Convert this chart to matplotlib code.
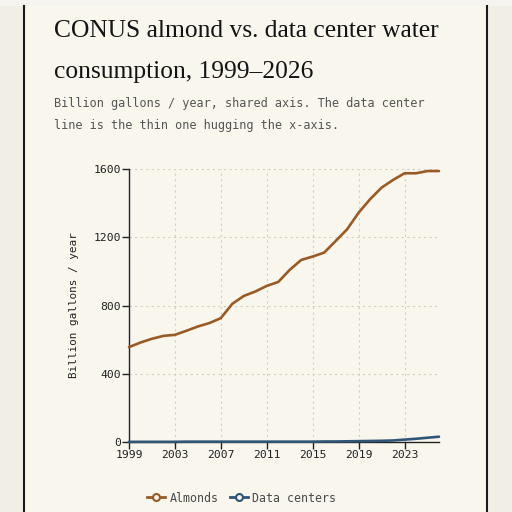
import matplotlib
matplotlib.use("Agg")
import matplotlib.pyplot as plt
from matplotlib.patches import Rectangle
from matplotlib.lines import Line2D

years = list(range(1999, 2027))
almonds = [556, 583, 605, 622, 628, 652, 677, 697, 726, 810, 856, 882, 915, 938,
           1009, 1067, 1087, 1110, 1178, 1247, 1344, 1423, 1491, 1536, 1575, 1575,
           1588, 1588]
data_centers = [1, 1, 1, 1, 1, 2, 2, 2, 2, 2, 2, 2, 2, 2, 2, 2, 2, 3, 3, 4, 5, 6,
                7, 9, 14, 19, 25, 31]
xticks = [1999, 2003, 2007, 2011, 2015, 2019, 2023]
yticks = [0, 400, 800, 1200, 1600]

W, H = 512, 512
fig = plt.figure(figsize=(W/100, H/100), dpi=100)
fig.patch.set_facecolor("#f1eee5")

def fx(px): return px / W
def fy(py): return 1 - py / H

# card
fig.patches.append(Rectangle((0, fy(6)), 1, 1 - fy(6), transform=fig.transFigure,
                             facecolor="#f5f4f0", edgecolor="none", zorder=-11))
fig.patches.append(Rectangle((fx(24), 0), fx(487) - fx(24), fy(6), transform=fig.transFigure,
                             facecolor="#f9f6ee", edgecolor="none", zorder=-10))
fig.lines.append(Line2D([fx(24), fx(24)], [0, fy(6)], transform=fig.transFigure, color="#1a1a1a",
                        lw=1.5, zorder=-5))
fig.lines.append(Line2D([fx(487), fx(487)], [0, fy(6)], transform=fig.transFigure, color="#1a1a1a",
                        lw=1.5, zorder=-5))

fig.text(fx(54), fy(37), "CONUS almond vs. data center water", fontsize=18.4,
         family="Liberation Serif", color="#141414", va="baseline")
fig.text(fx(54), fy(78), "consumption, 1999\u20132026", fontsize=18.4,
         family="Liberation Serif", color="#141414", va="baseline")
fig.text(fx(54), fy(107), "Billion gallons / year, shared axis. The data center", fontsize=8.55,
         family="DejaVu Sans Mono", color="#555555", va="baseline")
fig.text(fx(54), fy(129), "line is the thin one hugging the x-axis.", fontsize=8.55,
         family="DejaVu Sans Mono", color="#555555", va="baseline")

ax = fig.add_axes([fx(129), fy(442), fx(439) - fx(129), fy(169) - fy(442)])
ax.set_facecolor("none")
c_alm = "#9a5a25"
c_dc = "#2f5577"
ax.plot(years, almonds, color=c_alm, lw=1.9, solid_capstyle="round", solid_joinstyle="round",
        label="Almonds", clip_on=False, zorder=3)
ax.plot(years, data_centers, color=c_dc, lw=1.9, solid_capstyle="round", solid_joinstyle="round",
        label="Data centers", clip_on=False, zorder=3)
ax.set_xlim(1999, 2026)
ax.set_ylim(0, 1600)
ax.set_xticks(xticks)
ax.set_yticks(yticks)
ax.grid(True, color="#d3cfc3", lw=0.8, ls=(0, (2, 3)))
for s in ["top", "right"]:
    ax.spines[s].set_visible(False)
for s in ["left", "bottom"]:
    ax.spines[s].set_color("#222222")
    ax.spines[s].set_linewidth(1.0)
ax.tick_params(length=5, width=1, color="#222222", labelsize=8.2, labelcolor="#222222", pad=1)
for lab in ax.get_xticklabels() + ax.get_yticklabels():
    lab.set_family("DejaVu Sans Mono")
ax.set_ylabel("Billion gallons / year", family="DejaVu Sans Mono", fontsize=7.9,
              color="#222222", labelpad=10)

handles = [Line2D([], [], color=c_alm, lw=2, marker="o", markersize=5, markerfacecolor="#f9f6ee",
                  markeredgewidth=1.5),
           Line2D([], [], color=c_dc, lw=2, marker="o", markersize=5, markerfacecolor="#f9f6ee",
                  markeredgewidth=1.5)]
fig.legend(handles, ["Almonds", "Data centers"], loc="center", bbox_to_anchor=(fx(242), fy(498)),
           ncol=2, frameon=False, prop={"family": "DejaVu Sans Mono", "size": 8.4},
           handlelength=1.5, handletextpad=0.4, columnspacing=1.0, labelcolor="#4a4a4a")

fig.savefig("out.png", dpi=100, facecolor=fig.get_facecolor())
